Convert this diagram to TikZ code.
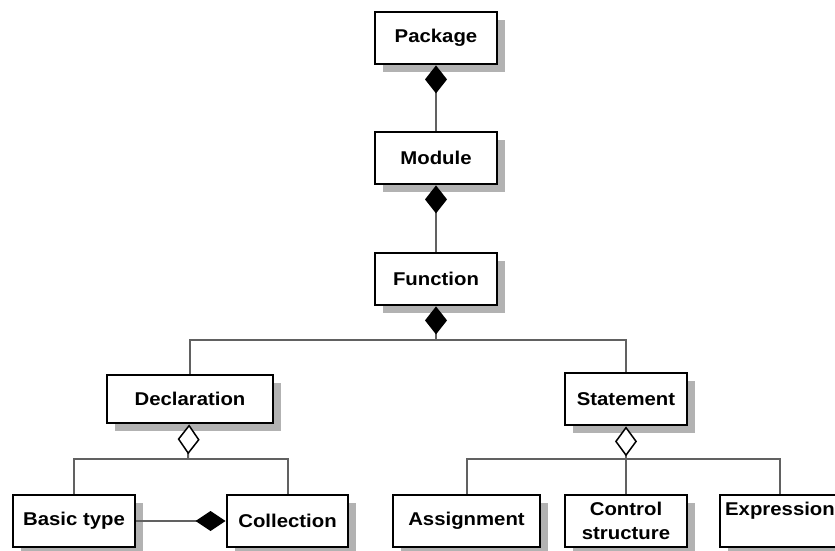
\documentclass[tikz,border=0pt]{standalone}
\usepackage{fontspec}
\newfontfamily\boxfont{Liberation Sans}[FakeStretch=1.1]
\usetikzlibrary{arrows.meta,shadows}

\begin{document}
\begin{tikzpicture}[x=1pt,y=-1pt,
  cls/.style={draw, line width=2.8pt, fill=white, inner sep=0pt,
    minimum width=122pt, minimum height=52pt, align=center,
    font=\boxfont\bfseries\fontsize{18.5}{24}\selectfont,
    drop shadow={shadow xshift=8pt, shadow yshift=-8pt, fill=black!30, opacity=1}},
  link/.style={draw=black!62, line width=2pt},
  comp/.style={{Diamond[color=black, length=28pt, width=22pt]}-},
  aggr/.style={{Diamond[open, fill=white, color=black, line width=1.5pt, length=30pt, width=22pt]}-}]
\useasboundingbox (0,0) rectangle (835,550);

% classes
\node[cls] (pkg) at (436,38) {Package};
\node[cls] (mod) at (436,158) {Module};
\node[cls] (fun) at (436,279) {Function};
\node[cls, minimum width=166pt, minimum height=48pt] (decl) at (190,399) {Declaration};
\node[cls] (stmt) at (626,399) {Statement};
\node[cls] (basic) at (74,521) {Basic type};
\node[cls, minimum width=121pt] (coll) at (287.5,521) {Collection};
\node[cls, minimum width=147pt] (assign) at (466.5,521) {Assignment};
\node[cls] (ctrl) at (626,521) {Control\\structure};
\node[cls, minimum width=120pt] (expr) at (780,521) {Expression\\~};

% joints
\coordinate (fj) at (436,340);
\coordinate (dj) at (188,459);
\coordinate (sj) at (626,459);

% links
\draw[link, comp] (pkg) -- (mod);
\draw[link, comp] (mod) -- (fun);
\draw[link, comp] (fun) -- (fj);
\draw[link] (fj) -| (decl);
\draw[link] (fj) -| (stmt);
\draw[link, aggr] (decl) -- (dj);
\draw[link] (dj) -| (basic);
\draw[link] (dj) -| (coll);
\draw[link, aggr] (stmt) -- (sj);
\draw[link] (sj) -| (assign);
\draw[link] (sj) -- (ctrl);
\draw[link] (sj) -| (expr);
\draw[link, -{Diamond[color=black, length=30pt, width=20pt]}] (basic) -- (coll);

\end{tikzpicture}
\end{document}
